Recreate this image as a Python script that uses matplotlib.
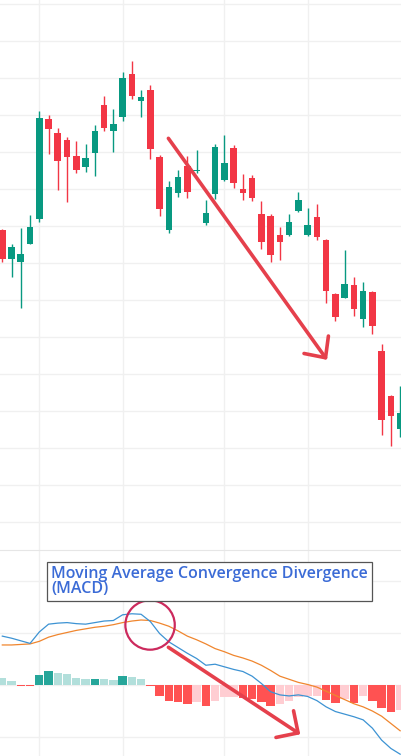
import numpy as np
import matplotlib
matplotlib.use("Agg")
import matplotlib.pyplot as plt
from matplotlib.patches import Ellipse

# candles (price units)
opens = [89.0, 81.2, 80.4, 85.3, 92.1, 118.9, 115.2, 113.3, 109.0, 106.1, 109.9,
         122.8, 115.8, 119.6, 131.2, 123.9, 126.8, 108.8, 89.0, 99.1, 106.4, 104.9,
         91.0, 98.8, 102.5, 111.2, 100.1, 103.1, 93.3, 92.8, 87.6, 87.7, 94.1, 87.7,
         92.5, 86.3, 71.7, 70.7, 74.1, 65.0, 72.2, 56.3, 44.1, 35.3]
closes = [81.2, 84.4, 82.5, 89.8, 119.3, 116.4, 107.7, 108.8, 105.3, 108.5, 115.8,
          116.6, 117.7, 130.1, 125.3, 124.9, 111.0, 94.8, 100.6, 103.3, 99.4, 105.3,
          93.5, 111.4, 107.1, 101.8, 99.1, 97.7, 85.8, 82.3, 85.8, 91.2, 97.1, 90.4,
          87.2, 72.6, 65.6, 74.4, 67.7, 72.5, 63.1, 37.7, 38.8, 39.5]
highs = [89.2, 85.2, 89.5, 93.1, 121.2, 120.1, 116.5, 114.1, 113.1, 112.2, 117.4,
         125.2, 121.7, 131.6, 134.7, 127.0, 128.1, 109.3, 102.2, 105.2, 109.1, 110.6,
         97.1, 112.4, 114.7, 112.0, 104.1, 103.8, 96.8, 93.3, 89.8, 93.4, 99.3, 94.9,
         96.0, 86.6, 72.1, 83.6, 76.3, 74.9, 72.4, 58.2, 44.4, 46.8]
lows = [80.4, 76.4, 67.9, 85.2, 91.2, 109.6, 99.8, 96.6, 104.3, 104.8, 103.7,
        115.8, 110.2, 118.5, 124.5, 119.6, 108.3, 92.9, 88.1, 98.0, 97.8, 104.3,
        90.4, 97.5, 102.3, 100.4, 97.1, 96.9, 83.9, 80.4, 80.9, 87.5, 93.9, 87.5,
        86.4, 69.4, 64.5, 70.6, 65.8, 62.9, 61.0, 33.7, 30.7, 33.1]

# MACD panel
macd_line = [0.94, 0.90, 0.85, 0.80, 1.02, 1.17, 1.19, 1.20, 1.18, 1.17, 1.20,
             1.23, 1.24, 1.35, 1.37, 1.36, 1.22, 0.99, 0.83, 0.72, 0.61, 0.51,
             0.38, 0.40, 0.35, 0.30, 0.26, 0.17, 0.03, -0.13, -0.19, -0.21, -0.19,
             -0.22, -0.30, -0.42, -0.51, -0.56, -0.61, -0.67, -0.83, -1.06, -1.22, -1.33]
signal_line = [0.77, 0.77, 0.78, 0.79, 0.84, 0.92, 0.97, 1.01, 1.05, 1.08, 1.11,
               1.13, 1.16, 1.20, 1.23, 1.25, 1.24, 1.19, 1.13, 1.04, 0.94, 0.87,
               0.79, 0.70, 0.64, 0.57, 0.52, 0.46, 0.38, 0.28, 0.17, 0.11, 0.05,
               0.01, -0.04, -0.12, -0.20, -0.28, -0.36, -0.42, -0.50, -0.60, -0.74, -0.88]
hist = [0.13, 0.08, -0.02, -0.025, 0.19, 0.27, 0.23, 0.21, 0.13, 0.11, 0.12,
        0.115, 0.09, 0.17, 0.16, 0.11, -0.01, -0.21, -0.30, -0.32, -0.36, -0.33,
        -0.40, -0.30, -0.24, -0.23, -0.25, -0.27, -0.32, -0.40, -0.36, -0.31, -0.23,
        -0.22, -0.21, -0.28, -0.35, -0.26, -0.35, -0.22, -0.30, -0.45, -0.51, -0.48]

grid_idx = [4, 13, 24, 33]

up = "#089981"
down = "#f23645"
grid_c = "#f0f0f0"

o = np.array(opens)
c = np.array(closes)
x = np.arange(len(o))

fig = plt.figure(figsize=(4.02, 7.56), dpi=100)
ax = fig.add_axes([0, 206 / 756, 1, 550 / 756])
ax2 = fig.add_axes([0, 0, 1, 206 / 756], sharex=ax)

# price candles
cols = [up if cc >= oo else down for oo, cc in zip(o, c)]
ax.vlines(x, lows, highs, colors=cols, lw=1.0, zorder=2)
ax.bar(x, np.maximum(np.abs(c - o), 0.4), bottom=np.minimum(o, c), width=0.72,
       color=cols, zorder=3)

ax.set_xlim(-0.25, 43.2)
ax.set_ylim(2.5, 151.2)
ax.set_yticks(np.arange(10, 151, 10))
ax.set_xticks(grid_idx)
ax.grid(True, color=grid_c, lw=1)
ax.tick_params(left=False, bottom=False, labelleft=False, labelbottom=False)
for s in ax.spines.values():
    s.set_visible(False)

ax.annotate("", xy=(35.1, 53.9), xytext=(17.95, 113.8),
            arrowprops=dict(arrowstyle="->,head_length=1.15,head_width=1.08",
                            color="#e5404c", lw=2.6, mutation_scale=10,
                            shrinkA=0, shrinkB=0, capstyle="round"), zorder=5)

# MACD
h = np.array(hist)
hcols = []
for i, v in enumerate(h):
    prev = h[i - 1] if i > 0 else v + 1
    if v >= 0:
        hcols.append("#26a69a" if v > prev else "#b2dfdb")
    else:
        hcols.append("#ff5252" if v < prev else "#ffcdd2")
ax2.bar(x, h, width=0.9, color=hcols, zorder=2)
ax2.plot(x, signal_line, color="#f0862e", lw=0.9, zorder=3)
ax2.plot(x, macd_line, color="#3d93d3", lw=0.9, zorder=4)

ax2.set_ylim(-1.365, 2.596)
ax2.set_yticks([-1, 0, 1, 2])
ax2.grid(True, color=grid_c, lw=1)
ax2.tick_params(left=False, bottom=False, labelleft=False, labelbottom=False)
for s in ax2.spines.values():
    s.set_visible(False)
ax2.spines["top"].set_visible(True)
ax2.spines["top"].set_color("#e6e6e6")

ax2.add_patch(Ellipse((15.97, 1.154), 5.34, 0.95, fill=False,
                      edgecolor="#cc2a5d", lw=1.6, zorder=6))
ax2.annotate("", xy=(32.2, -0.948), xytext=(17.95, 0.725),
             arrowprops=dict(arrowstyle="->,head_length=1.15,head_width=1.15",
                             color="#e5404c", lw=2.6, mutation_scale=10,
                             shrinkA=0, shrinkB=0, capstyle="round"), zorder=6)

ax2.text(51 / 402, (756 - 566) / 206,
         "Moving Average Convergence Divergence\n(MACD)",
         transform=ax2.transAxes, ha="left", va="top", family="Open Sans",
         fontsize=11.5, fontweight="semibold", color="#3b6bd6",
         linespacing=0.95, zorder=7,
         bbox=dict(boxstyle="square,pad=0.25", facecolor="white",
                   edgecolor="#555555", lw=0.9))

fig.savefig("out.png", dpi=100)
